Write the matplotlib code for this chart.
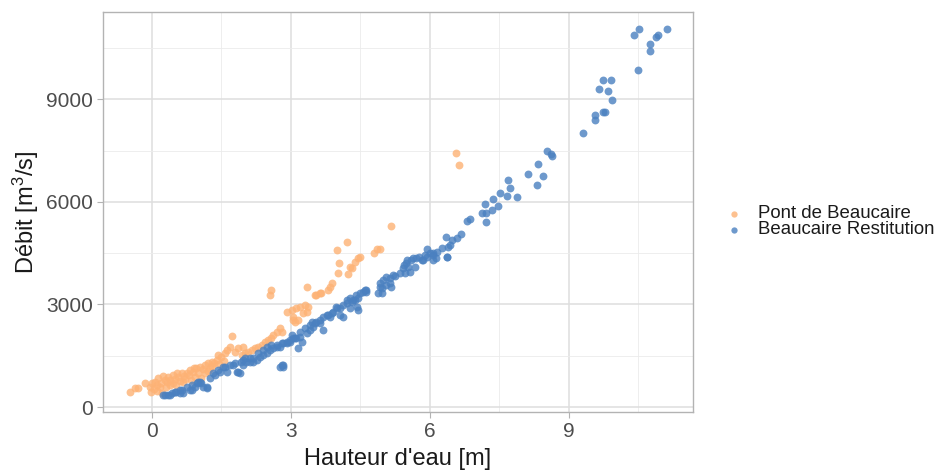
import matplotlib
matplotlib.use("Agg")
import matplotlib.pyplot as plt
import matplotlib.ticker as mticker

plt.rcParams['font.family'] = ['Liberation Sans', 'DejaVu Sans']
plt.rcParams['mathtext.fontset'] = 'custom'
plt.rcParams['mathtext.rm'] = 'Liberation Sans'
plt.rcParams['mathtext.it'] = 'Liberation Sans'

# Pont de Beaucaire : hauteur [m], débit [m3/s]
pont_h = [-0.47, -0.37, -0.30, -0.15, -0.04, -0.01, 0.06, 0.14, 0.17, 0.21, 0.28, 0.35, 0.39,
          0.46, 0.57, 0.64, 0.68, 0.75, 0.82, 0.89, 0.96, 1.04, 1.07, 1.14, 1.22, 1.29, 1.40,
          1.43, 1.58, 1.61, 1.72, 1.79, 1.86, 1.97,
          0.00, 0.10, 0.20, 0.25, 0.30, 0.40, 0.45, 0.50, 0.55, 0.60, 0.70, 0.80, 0.85, 0.90,
          1.00, 1.10, 1.20, 1.30, 1.35, 1.50, 1.68,
          0.05, 0.12, 0.33, 0.52, 0.72, 0.93, 1.15, 1.25, 1.45, 1.55,
          1.94, 2.01, 2.08, 2.15, 2.22, 2.29, 2.37, 2.44, 2.51, 2.58, 2.62, 2.69, 2.76, 2.80,
          2.55, 2.58,
          2.91, 3.02, 3.12, 3.19, 3.30, 3.37, 3.34, 3.27, 3.05, 3.16, 3.09, 3.04,
          3.34, 3.55, 3.63, 3.84, 3.88, 3.81, 3.52, 3.65,
          4.02, 4.24, 4.20, 4.00, 4.04, 4.27, 4.31, 4.38, 4.45, 4.50, 4.79, 4.85, 4.92,
          5.17, 6.56, 6.63]
pont_q = [448, 547, 560, 711, 594, 448, 741, 839, 594, 401, 790, 888, 644,
          937, 888, 986, 741, 986, 1083, 1034, 1132, 1180, 839, 1229, 1278, 1327, 1376,
          1522, 1571, 1668, 2088, 1620, 1717, 1766,
          700, 650, 700, 900, 600, 800, 700, 820, 1000, 750, 900, 950, 800, 1150,
          1000, 1100, 1050, 1200, 1300, 1450, 1766,
          520, 480, 720, 650, 820, 880, 1000, 1150, 1250, 1350,
          1522, 1571, 1620, 1668, 1717, 1766, 1815, 1912, 1961, 2010, 2108, 2206, 2303, 2205,
          3278, 3425,
          2789, 2839, 2889, 2936, 2985, 2936, 2789, 2743, 2643, 2546, 2497, 2545,
          3522, 3278, 3327, 3522, 3620, 3425, 3280, 3330,
          3913, 3893, 4840, 4595, 4205, 4105, 4060, 4250, 4350, 4380, 4515, 4625, 4625,
          5290, 7445, 7090]

# Beaucaire Restitution
rest_h = [0.25, 0.28, 0.35, 0.39, 0.43, 0.50, 0.53, 0.60, 0.60, 0.64, 0.68, 0.75, 0.82, 0.86,
          0.86, 0.93, 0.97, 1.00, 1.04, 1.07, 1.11, 1.18, 1.18, 1.25, 1.32, 1.36, 1.43, 1.47,
          1.54, 1.58, 1.61, 1.68, 1.76, 1.79, 1.83, 1.86, 1.90, 1.93, 1.97, 1.97, 2.01, 2.04,
          2.12, 2.12, 2.19, 2.19, 2.26, 2.30, 2.33, 2.40, 2.40, 2.48, 2.48, 2.55, 2.58, 2.62,
          2.69, 2.69, 2.76, 2.80, 2.76, 2.80, 2.83, 2.84, 2.83, 2.91, 2.91, 2.98, 2.98, 3.02,
          3.05, 3.09, 3.12, 3.16, 3.19, 3.19, 3.23, 3.30, 3.34, 3.41, 3.41, 3.45, 3.48, 3.52,
          3.55, 3.62, 3.63, 3.70, 3.70, 3.77, 3.81, 3.84, 3.88, 3.91, 3.98, 3.99, 4.06, 4.06,
          4.13, 4.13, 4.20, 4.20, 4.27, 4.27, 4.31, 4.34, 4.38, 4.41, 4.42, 4.45, 4.45, 4.49,
          4.56, 4.59, 4.63, 4.63, 4.88, 4.92, 4.92, 4.96, 4.96, 4.99, 5.06, 5.06, 5.13, 5.14,
          5.17, 5.20, 5.24, 5.35, 5.42, 5.43, 5.46, 5.49, 5.51, 5.53, 5.57, 5.60, 5.64, 5.68,
          5.71, 5.77, 5.82, 5.86, 5.89, 5.93, 5.93, 6.00, 6.07, 6.07, 6.07, 6.14, 6.15, 6.25,
          6.34, 6.36, 6.37, 6.40, 6.43, 6.47, 6.58, 6.68, 6.79, 6.86, 7.12, 7.19, 7.22, 7.22,
          7.33, 7.37, 7.47, 7.51, 7.67, 7.69, 7.73, 7.87, 8.12, 8.32, 8.33, 8.43, 8.53, 8.61,
          8.63,
          9.31, 9.56, 9.57, 9.74, 9.78, 9.94, 9.85, 9.65, 9.73, 9.91, 10.50, 10.75, 10.76,
          10.88, 10.92, 10.40, 10.51, 11.11]
rest_q = [351, 351, 351, 351, 400, 448, 448, 498, 400, 498, 401, 595, 498, 498,
          644, 594, 693, 741, 741, 693, 595, 547, 595, 839, 986, 937, 1083, 1034,
          1180, 1180, 1034, 1229, 1229, 1278, 1034, 1034, 986, 1327, 1229, 1376, 1425, 1327,
          1327, 1425, 1424, 1327, 1376, 1571, 1473, 1522, 1668, 1766, 1571, 1668, 1815, 1717,
          1815, 1766, 1766, 1864, 1180, 1229, 1180, 1229, 1864, 1864, 1912, 1912, 1961, 2108,
          2010, 2010, 2010, 1717, 2059, 2206, 1912, 2303, 2157, 2254, 2401, 2497, 2352, 2450,
          2498, 2450, 2546, 2254, 2643, 2693, 2693, 2645, 2743, 2791, 2938, 2889, 2889, 2693,
          2986, 2643, 3132, 3035, 3181, 2889, 3082, 3132, 3132, 3278, 2936, 2839, 3181, 3327,
          3376, 3425, 3376, 3425, 3327, 3522, 3620, 3474, 3325, 3717, 3815, 3571, 3766, 3620,
          3520, 3864, 3845, 3913, 4059, 4155, 3910, 4206, 4300, 4105, 3960, 4303, 4350, 4105,
          4352, 4380, 4303, 4300, 4450, 4400, 4615, 4499, 4450, 4300, 4500, 4352, 4545, 4645,
          4985, 4401, 4380, 4675, 4740, 4890, 4935, 5055, 5450, 5490, 5670, 5940, 5670, 5425,
          5765, 6080, 5880, 6250, 6175, 6640, 6420, 6155, 6830, 6505, 7110, 6750, 7500, 7400,
          7345,
          8010, 8400, 8545, 8633, 8633, 8995, 9230, 9307, 9560, 9580, 9853, 10400, 10625,
          10810, 10870, 10890, 11045, 11065]

ORANGE = "#FDB275"
BLUE = "#4A80C0"
GREY_TXT = "#4D4D4D"

fig = plt.figure(figsize=(9.43, 4.72), dpi=100)
ax = fig.add_axes([0.109, 0.127, 0.626, 0.848])

ax.scatter(pont_h, pont_q, s=32, color=ORANGE, alpha=0.8, linewidths=0,
           label="Pont de Beaucaire", zorder=3)
ax.scatter(rest_h, rest_q, s=32, color=BLUE, alpha=0.8, linewidths=0,
           label="Beaucaire Restitution", zorder=3)

ax.set_xlim(-1.06, 11.68)
ax.set_ylim(-146, 11560)

ax.xaxis.set_major_locator(mticker.MultipleLocator(3))
ax.xaxis.set_minor_locator(mticker.MultipleLocator(1.5))
ax.yaxis.set_major_locator(mticker.MultipleLocator(3000))
ax.yaxis.set_minor_locator(mticker.MultipleLocator(1500))

ax.grid(which="major", color="#DEDEDE", linewidth=1.1, zorder=0)
ax.grid(which="minor", color="#EBEBEB", linewidth=0.6, zorder=0)
ax.set_axisbelow(True)

for sp in ax.spines.values():
    sp.set_color("#B3B3B3")
    sp.set_linewidth(1.0)

ax.tick_params(which="major", length=4, width=0.8, color="#B3B3B3",
               labelsize=15, labelcolor=GREY_TXT, pad=3)
ax.tick_params(which="minor", length=0)

ax.set_xlabel("Hauteur d'eau [m]", fontsize=17, color="#1A1A1A", labelpad=5)
ax.set_ylabel(r"Débit [m$^3$/s]", fontsize=17, color="#1A1A1A", labelpad=4)

leg = ax.legend(loc="center left", bbox_to_anchor=(1.01, 0.475), frameon=False,
                fontsize=13.4, handletextpad=0.25, labelspacing=-0.05,
                markerscale=0.8, borderaxespad=0.5)
for t in leg.get_texts():
    t.set_color("#1A1A1A")

fig.savefig("out.png", dpi=100)
